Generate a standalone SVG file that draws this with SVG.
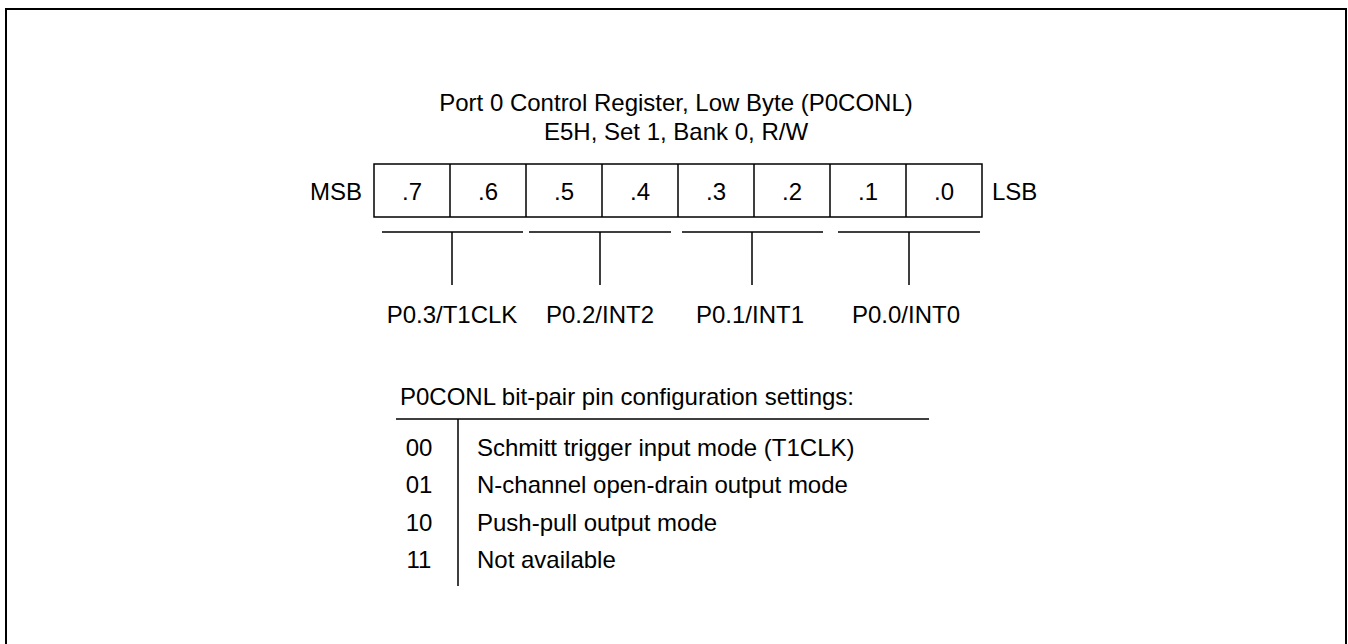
<svg xmlns="http://www.w3.org/2000/svg" width="1348" height="644" viewBox="0 0 1348 644">
<style>
text{font-family:"Liberation Sans",Arial,sans-serif;font-size:24px;fill:#000}
.c{text-anchor:middle}
.e{text-anchor:end}
.ln{stroke:#000;stroke-width:1.5;fill:none}
</style>
<rect x="0" y="0" width="1348" height="644" fill="#fff"/>
<rect x="6" y="9" width="1340" height="645" fill="none" stroke="#000" stroke-width="2"/>
<g id="title">
<text class="c" x="676" y="111">Port 0 Control Register, Low Byte (P0CONL)</text>
<text class="c" x="676" y="140">E5H, Set 1, Bank 0, R/W</text>
</g>
<g id="register">
<rect class="ln" x="374" y="164" width="608" height="53"/>
<path class="ln" d="M450 164V217M526 164V217M602 164V217M678 164V217M754 164V217M830 164V217M906 164V217"/>
<text class="e" x="362" y="200">MSB</text>
<text x="992" y="200">LSB</text>
<text class="c" x="412" y="200">.7</text>
<text class="c" x="488" y="200">.6</text>
<text class="c" x="564" y="200">.5</text>
<text class="c" x="640" y="200">.4</text>
<text class="c" x="716" y="200">.3</text>
<text class="c" x="792" y="200">.2</text>
<text class="c" x="868" y="200">.1</text>
<text class="c" x="944" y="200">.0</text>
</g>
<g id="connectors">
<path class="ln" d="M382 232H523M529 232H671M682 232H823M838 232H980"/>
<path class="ln" d="M452 232V285M600 232V285M752 232V285M909 232V285"/>
</g>
<g id="pin3"><text class="c" x="452" y="323">P0.3/T1CLK</text></g>
<g id="pin2"><text class="c" x="600" y="323">P0.2/INT2</text></g>
<g id="pin1"><text class="c" x="750" y="323">P0.1/INT1</text></g>
<g id="pin0"><text class="c" x="906" y="323">P0.0/INT0</text></g>
<g id="settings">
<text x="400" y="405">P0CONL bit-pair pin configuration settings:</text>
<path class="ln" d="M396 419H929M458 419V586"/>
<text class="c" x="419" y="455.5">00</text>
<text x="477" y="455.5">Schmitt trigger input mode (T1CLK)</text>
<text class="c" x="419" y="493">01</text>
<text x="477" y="493">N-channel open-drain output mode</text>
<text class="c" x="419" y="530.5">10</text>
<text x="477" y="530.5">Push-pull output mode</text>
<text class="c" x="419" y="568">11</text>
<text x="477" y="568">Not available</text>
</g>
</svg>
